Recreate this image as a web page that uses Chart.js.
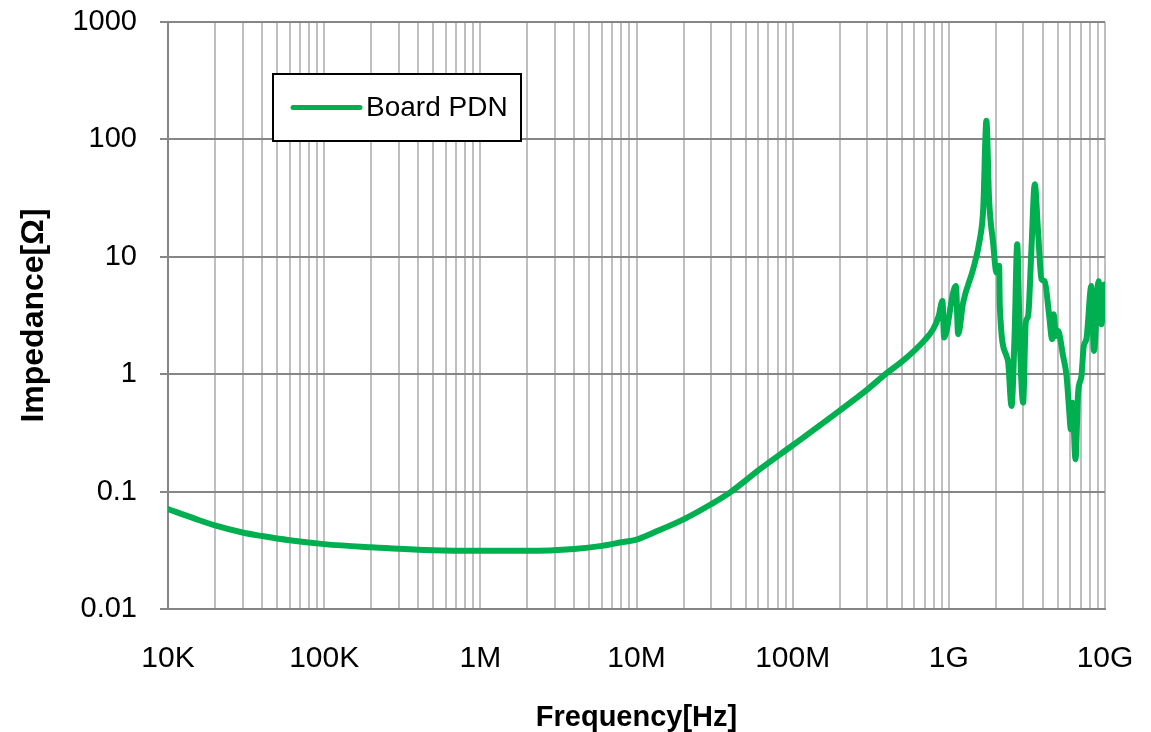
<!DOCTYPE html>
<html lang="en">
<head>
<meta charset="UTF-8">
<title>Board PDN impedance</title>
<script src="https://cdn.jsdelivr.net/npm/chart.js"></script>
<style>
  html, body { margin: 0; padding: 0; background: #fff; }
  #wrap { width: 1151px; height: 732px; }
</style>
</head>
<body>
<div id="wrap"><canvas id="pdnChart" width="1151" height="732"></canvas></div>
<script>
// series (Hz, ohm)
const seriesName = 'Board PDN';
const frequencies = [
  1e4, 1.5e4, 2e4, 3e4, 4e4, 6e4, 1e5, 2e5, 4e5, 7e5, 1e6, 2e6, 4e6, 6e6, 8e6,
  1e7, 1.3e7, 2e7, 3e7, 4e7, 6.2e7, 1e8, 2e8, 3e8, 4e8, 5e8, 5.9e8, 7e8, 7.94e8,
  0.86e9, 0.91e9, 0.933e9, 1.066e9, 1.11e9, 1.147e9, 1.235e9, 1.43e9, 1.58e9, 1.66e9,
  1.74e9, 1.81e9, 1.92e9, 2.02e9, 2.1e9, 2.12e9, 2.34e9, 2.4e9, 2.52e9, 2.64e9,
  2.74e9, 2.85e9, 2.99e9, 3.11e9, 3.22e9, 3.38e9, 3.55e9, 3.73e9, 3.92e9, 4.11e9,
  4.37e9, 4.59e9, 4.7e9, 4.84e9, 5.0e9, 5.39e9, 5.67e9, 5.9e9, 6.04e9, 6.19e9,
  6.47e9, 6.73e9, 7.07e9, 7.31e9, 7.6e9, 8.18e9, 8.5e9, 9.1e9, 9.48e9, 9.9e9
];
const impedance = [
  0.071, 0.0585, 0.0515, 0.0448, 0.0418, 0.0385, 0.0357, 0.0335, 0.0319, 0.0314, 0.0313, 0.0313, 0.0325, 0.0345, 0.037,
  0.039, 0.045, 0.058, 0.078, 0.099, 0.156, 0.248, 0.49, 0.74, 1.02, 1.28, 1.55, 1.95, 2.42,
  3.1, 4.2, 2.05, 4.97, 5.65, 2.19, 4.08, 7.84, 14.1, 25.4,
  144, 31, 13.2, 7.35, 8.37, 3.82, 1.43, 1.26, 0.537, 2.27,
  12.8, 1.86, 0.574, 2.76, 3.14, 11.6, 41.5, 16.1, 6.44, 6.2,
  3.35, 1.99, 3.24, 2.12, 2.34, 1.43, 0.97, 0.487, 0.34, 0.57,
  0.189, 0.70, 0.97, 1.74, 1.99, 5.65, 1.58, 6.2, 2.66, 5.8
];

// axes
const xDecades = [1e4, 1e5, 1e6, 1e7, 1e8, 1e9, 1e10];
const xTickLabels = ['10K', '100K', '1M', '10M', '100M', '1G', '10G'];
const yDecades = [0.01, 0.1, 1, 10, 100, 1000];
const yTickLabels = ['0.01', '0.1', '1', '10', '100', '1000'];

const lineColor = '#00B050';
const majorGrid = '#868686';
const minorGrid = '#BFBFBF';

// minor vertical grid: 1..9 in each decade
const xGridValues = [];
xDecades.forEach((d, i) => {
  if (i === xDecades.length - 1) { xGridValues.push(d); return; }
  for (let k = 1; k <= 9; k++) xGridValues.push(k * d);
});

function decadeIndex(list, v) {
  return list.findIndex(d => Math.abs(Math.log10(d) - Math.log10(v)) < 1e-9);
}

// legend drawn inside the plot, boxed like the original
const boxLegend = {
  id: 'boxLegend',
  beforeDatasetsDraw(chart) {
    const { ctx, chartArea } = chart;
    const ds = chart.data.datasets[0];
    const x = chartArea.left + 105, y = chartArea.top + 52, w = 248, h = 67;
    ctx.save();
    ctx.fillStyle = '#fff';
    ctx.fillRect(x, y, w, h);
    ctx.strokeStyle = '#000';
    ctx.lineWidth = 2;
    ctx.strokeRect(x, y, w, h);
    ctx.strokeStyle = ds.borderColor;
    ctx.lineWidth = 5;
    ctx.lineCap = 'round';
    ctx.beginPath();
    ctx.moveTo(x + 20, y + h / 2);
    ctx.lineTo(x + 87, y + h / 2);
    ctx.stroke();
    ctx.fillStyle = '#000';
    ctx.font = '28px "Liberation Sans", Arial, sans-serif';
    ctx.textBaseline = 'middle';
    ctx.fillText(ds.label, x + 93, y + h / 2 + 1);
    ctx.restore();
  }
};

Chart.defaults.font.family = '"Liberation Sans", Arial, sans-serif';
Chart.defaults.color = '#000';

new Chart(document.getElementById('pdnChart'), {
  type: 'line',
  data: {
    datasets: [{
      label: seriesName,
      data: frequencies.map((f, i) => ({ x: f, y: impedance[i] })),
      borderColor: lineColor,
      backgroundColor: lineColor,
      borderWidth: 6,
      borderJoinStyle: 'round',
      borderCapStyle: 'round',
      pointRadius: 0,
      cubicInterpolationMode: 'monotone',
      fill: false
    }]
  },
  options: {
    responsive: false,
    devicePixelRatio: 1,
    animation: false,
    layout: { padding: { left: 0, right: 46, top: 22, bottom: 0 } },
    plugins: {
      legend: { display: false },
      tooltip: { enabled: false }
    },
    scales: {
      x: {
        type: 'logarithmic',
        min: 1e4,
        max: 1e10,
        afterBuildTicks: (scale) => {
          scale.ticks = xGridValues.map(v => ({ value: v }));
        },
        afterFit: (scale) => {
          scale.height = 123;
          scale.paddingLeft = 0;
          scale.paddingRight = 0;
        },
        ticks: {
          autoSkip: false,
          maxRotation: 0,
          padding: 24,
          font: { size: 30 },
          callback: (v) => {
            const i = decadeIndex(xDecades, v);
            return i >= 0 ? xTickLabels[i] : '';
          }
        },
        grid: {
          color: minorGrid,
          lineWidth: 2,
          tickLength: 8,
          tickColor: 'rgba(0,0,0,0)'
        },
        border: { color: majorGrid, width: 2 },
        title: {
          display: true,
          text: 'Frequency[Hz]',
          font: { size: 29, weight: 'bold' },
          padding: { top: 0, bottom: -3 }
        }
      },
      y: {
        type: 'logarithmic',
        min: 0.01,
        max: 1000,
        afterBuildTicks: (scale) => {
          scale.ticks = yDecades.map(v => ({ value: v }));
        },
        afterFit: (scale) => {
          scale.width = 168;
          scale.paddingTop = 0;
          scale.paddingBottom = 0;
        },
        ticks: {
          autoSkip: false,
          padding: 23,
          font: { size: 29 },
          callback: (v) => {
            const i = decadeIndex(yDecades, v);
            return i >= 0 ? yTickLabels[i] : '';
          }
        },
        grid: {
          color: majorGrid,
          lineWidth: 2,
          tickLength: 8,
          tickColor: majorGrid
        },
        border: { color: majorGrid, width: 2 },
        title: {
          display: true,
          text: 'Impedance[Ω]',
          font: { size: 32, weight: 'bold' },
          padding: { top: 15, bottom: 0 }
        }
      }
    }
  },
  plugins: [boxLegend]
});
</script>
</body>
</html>
